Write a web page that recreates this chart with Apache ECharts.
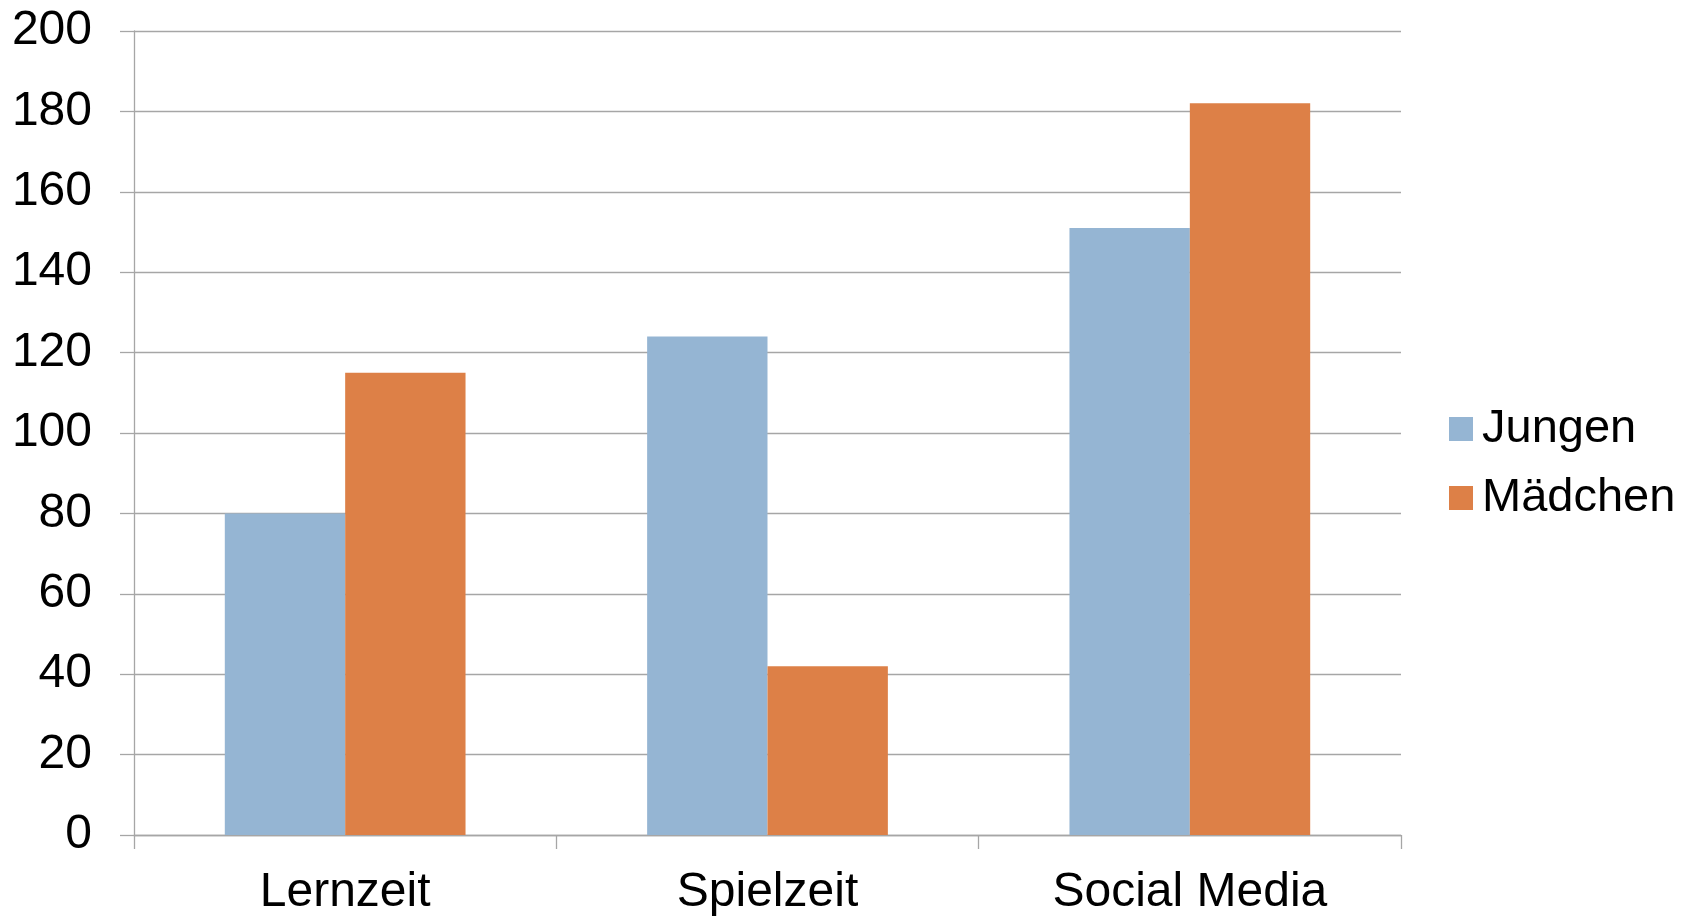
<!DOCTYPE html>
<html>
<head>
<meta charset="utf-8">
<title>Lernzeit, Spielzeit, Social Media</title>
<script src="https://cdn.jsdelivr.net/npm/echarts@6/dist/echarts.min.js"></script>
<style>
  html, body { margin: 0; padding: 0; background: #ffffff; }
  #chart { width: 1698px; height: 917px; }
</style>
</head>
<body>
<div id="chart"></div>
<script>
// Categories and values per group
const categories = ['Lernzeit', 'Spielzeit', 'Social Media'];
const seriesNames = ['Jungen', 'Mädchen'];
const jungen = [80, 124, 151];
const maedchen = [115, 42, 182];
const yTicks = { min: 0, max: 200, interval: 20 };

const FONT = '"Liberation Sans", Arial, sans-serif';
const GRID_GRAY = '#A6A6A6';

const chart = echarts.init(document.getElementById('chart'), null, { renderer: 'canvas' });

chart.setOption({
  backgroundColor: '#ffffff',
  animation: false,
  textStyle: { fontFamily: FONT, color: '#000' },
  grid: { left: 134, right: 297, top: 31, bottom: 82, containLabel: false },
  legend: {
    orient: 'vertical',
    left: 1449,
    top: 405,
    padding: 0,
    itemWidth: 24,
    itemHeight: 24,
    itemGap: 21,
    icon: 'rect',
    data: seriesNames,
    textStyle: { fontFamily: FONT, fontSize: 47, color: '#000', lineHeight: 48, padding: [0, 0, 0, 4] }
  },
  xAxis: {
    type: 'category',
    data: categories,
    axisLine: { show: true, lineStyle: { color: GRID_GRAY, width: 1.3 } },
    axisTick: { show: true, length: 14, lineStyle: { color: GRID_GRAY, width: 1.3 } },
    axisLabel: { fontFamily: FONT, fontSize: 48, color: '#000', margin: 34 },
    splitLine: { show: false }
  },
  yAxis: {
    type: 'value',
    min: yTicks.min,
    max: yTicks.max,
    interval: yTicks.interval,
    axisLine: { show: true, lineStyle: { color: GRID_GRAY, width: 1.3 } },
    axisTick: { show: true, length: 14, lineStyle: { color: GRID_GRAY, width: 1.3 } },
    axisLabel: { fontFamily: FONT, fontSize: 48, color: '#000', margin: 42 },
    splitLine: { show: true, lineStyle: { color: GRID_GRAY, width: 1.3 } }
  },
  series: [
    {
      name: seriesNames[0],
      type: 'bar',
      data: jungen,
      barGap: '0%',
      barCategoryGap: '43%',
      itemStyle: { color: '#95B5D3' }
    },
    {
      name: seriesNames[1],
      type: 'bar',
      data: maedchen,
      barGap: '0%',
      barCategoryGap: '43%',
      itemStyle: { color: '#DD8047' }
    }
  ]
});
</script>
</body>
</html>
